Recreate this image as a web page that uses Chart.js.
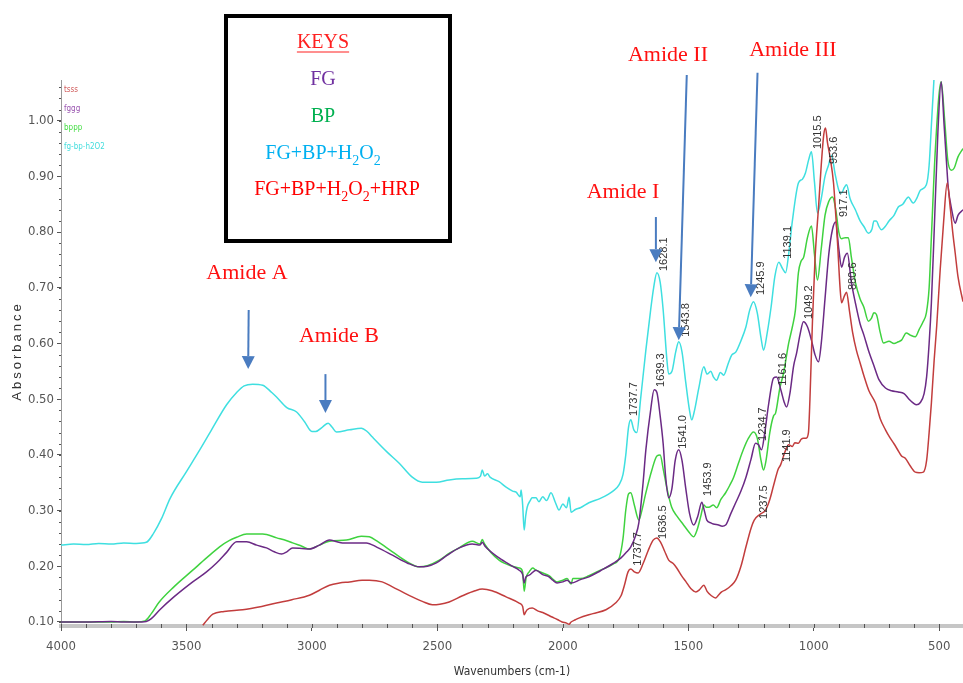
<!DOCTYPE html>
<html>
<head>
<meta charset="utf-8">
<script src="https://cdn.jsdelivr.net/npm/chart.js@4"></script>
<style>
  html, body { margin: 0; padding: 0; background: #fff; }
  #wrap { width: 963px; height: 683px; position: relative; }
</style>
</head>
<body>
<div id="wrap"><canvas id="ftir"></canvas></div>
<script>
// wavenumber (cm-1) / absorbance pairs
const cyanWn = [4000, 3950, 3900, 3850, 3800, 3750, 3700, 3660, 3630, 3600, 3565, 3500, 3447, 3400, 3340, 3300, 3270, 3236, 3196, 3160, 3141, 3100, 3061, 3030, 3000, 2985, 2958, 2935, 2920, 2902, 2850, 2803, 2780, 2759, 2700, 2652, 2600, 2560, 2504, 2453, 2400, 2345, 2328, 2321, 2312, 2300, 2290, 2254, 2226, 2200, 2186, 2170, 2166, 2160, 2154, 2148, 2142, 2130, 2122, 2107, 2095, 2080, 2065, 2047, 2030, 2015, 2000, 1985, 1975, 1967, 1950, 1930, 1896, 1850, 1800, 1776, 1760, 1749, 1738, 1729, 1717, 1705, 1690, 1669, 1650, 1638, 1625, 1612, 1600, 1585, 1578, 1565, 1550, 1538, 1525, 1510, 1495, 1486, 1475, 1458, 1438, 1425, 1410, 1400, 1387, 1372, 1359, 1340, 1327, 1310, 1290, 1270, 1255, 1240, 1225, 1210, 1200, 1185, 1170, 1155, 1139, 1125, 1112, 1100, 1085, 1061, 1045, 1033, 1020, 1009, 997, 985, 970, 955, 941, 929, 915, 900, 889, 878, 869, 855, 834, 815, 800, 782, 768, 760, 750, 740, 730, 715, 700, 680, 663, 645, 630, 623, 610, 603, 590, 575, 551, 540, 530, 520, 505, 405];
const cyanAbs = [0.238, 0.240, 0.239, 0.241, 0.240, 0.242, 0.241, 0.243, 0.260, 0.285, 0.322, 0.370, 0.409, 0.445, 0.490, 0.512, 0.524, 0.527, 0.525, 0.512, 0.504, 0.485, 0.477, 0.460, 0.442, 0.442, 0.450, 0.457, 0.450, 0.441, 0.445, 0.448, 0.442, 0.432, 0.405, 0.385, 0.360, 0.351, 0.351, 0.355, 0.357, 0.358, 0.362, 0.373, 0.362, 0.366, 0.360, 0.352, 0.342, 0.335, 0.333, 0.325, 0.337, 0.310, 0.265, 0.290, 0.306, 0.318, 0.323, 0.323, 0.316, 0.325, 0.318, 0.332, 0.315, 0.301, 0.312, 0.305, 0.324, 0.297, 0.302, 0.305, 0.314, 0.322, 0.335, 0.346, 0.365, 0.400, 0.450, 0.463, 0.445, 0.440, 0.500, 0.588, 0.660, 0.700, 0.727, 0.710, 0.660, 0.570, 0.545, 0.550, 0.585, 0.603, 0.585, 0.530, 0.480, 0.463, 0.480, 0.520, 0.558, 0.545, 0.550, 0.540, 0.534, 0.548, 0.543, 0.565, 0.579, 0.585, 0.605, 0.630, 0.660, 0.675, 0.655, 0.610, 0.588, 0.620, 0.665, 0.720, 0.746, 0.735, 0.727, 0.760, 0.820, 0.888, 0.895, 0.906, 0.930, 0.944, 0.890, 0.834, 0.860, 0.900, 0.920, 0.938, 0.905, 0.875, 0.870, 0.880, 0.885, 0.860, 0.840, 0.820, 0.810, 0.798, 0.805, 0.820, 0.820, 0.810, 0.804, 0.810, 0.820, 0.830, 0.845, 0.850, 0.860, 0.863, 0.855, 0.852, 0.860, 0.875, 0.885, 0.920, 1.000, 1.080, 1.200, 1.250];

const purpleWn = [4000, 3900, 3800, 3750, 3700, 3660, 3640, 3606, 3550, 3475, 3420, 3380, 3340, 3300, 3260, 3220, 3181, 3150, 3121, 3100, 3077, 3040, 3010, 2970, 2930, 2900, 2878, 2830, 2783, 2740, 2679, 2620, 2572, 2540, 2504, 2460, 2413, 2361, 2330, 2321, 2310, 2254, 2200, 2174, 2160, 2154, 2148, 2134, 2107, 2080, 2055, 2040, 2023, 2000, 1983, 1967, 1930, 1896, 1850, 1800, 1768, 1745, 1729, 1710, 1697, 1680, 1669, 1650, 1636, 1625, 1612, 1600, 1590, 1578, 1565, 1552, 1538, 1525, 1510, 1495, 1478, 1462, 1446, 1436, 1426, 1410, 1400, 1379, 1365, 1351, 1330, 1311, 1290, 1270, 1250, 1232, 1220, 1208, 1195, 1180, 1160, 1148, 1130, 1118, 1108, 1095, 1080, 1068, 1055, 1041, 1025, 1009, 995, 981, 970, 955, 940, 925, 913, 900, 889, 877, 866, 850, 834, 815, 800, 782, 760, 740, 714, 690, 663, 640, 620, 600, 591, 575, 560, 550, 540, 531, 520, 505, 492, 480, 470, 464, 450, 436, 425, 405];
const purpleAbs = [0.100, 0.100, 0.101, 0.100, 0.100, 0.101, 0.106, 0.122, 0.145, 0.172, 0.190, 0.206, 0.225, 0.244, 0.244, 0.238, 0.233, 0.226, 0.222, 0.226, 0.233, 0.232, 0.231, 0.238, 0.247, 0.244, 0.242, 0.242, 0.242, 0.234, 0.220, 0.206, 0.199, 0.200, 0.206, 0.220, 0.233, 0.240, 0.238, 0.243, 0.236, 0.215, 0.200, 0.193, 0.185, 0.170, 0.180, 0.184, 0.193, 0.185, 0.181, 0.175, 0.170, 0.172, 0.175, 0.170, 0.176, 0.181, 0.192, 0.205, 0.215, 0.226, 0.235, 0.255, 0.278, 0.350, 0.409, 0.480, 0.517, 0.512, 0.470, 0.420, 0.360, 0.323, 0.340, 0.390, 0.409, 0.390, 0.340, 0.295, 0.274, 0.290, 0.315, 0.300, 0.283, 0.278, 0.276, 0.274, 0.272, 0.274, 0.295, 0.314, 0.335, 0.360, 0.392, 0.421, 0.418, 0.409, 0.440, 0.490, 0.538, 0.540, 0.515, 0.495, 0.486, 0.510, 0.560, 0.583, 0.615, 0.639, 0.630, 0.606, 0.580, 0.567, 0.600, 0.680, 0.760, 0.805, 0.818, 0.770, 0.737, 0.755, 0.762, 0.710, 0.673, 0.635, 0.615, 0.588, 0.560, 0.535, 0.520, 0.515, 0.513, 0.510, 0.500, 0.492, 0.490, 0.494, 0.510, 0.540, 0.600, 0.673, 0.800, 0.980, 1.070, 0.990, 0.920, 0.881, 0.840, 0.816, 0.830, 0.840];

const greenWn = [4000, 3900, 3800, 3750, 3700, 3665, 3640, 3610, 3550, 3475, 3420, 3368, 3330, 3300, 3260, 3196, 3140, 3100, 3077, 3040, 3010, 2970, 2930, 2862, 2803, 2771, 2740, 2679, 2620, 2572, 2540, 2492, 2450, 2413, 2361, 2330, 2321, 2312, 2254, 2200, 2174, 2160, 2154, 2146, 2134, 2120, 2107, 2080, 2055, 2023, 2000, 1983, 1967, 1960, 1930, 1896, 1850, 1800, 1775, 1760, 1749, 1738, 1729, 1715, 1697, 1685, 1670, 1645, 1625, 1612, 1600, 1585, 1566, 1545, 1520, 1500, 1478, 1465, 1450, 1438, 1428, 1418, 1400, 1387, 1370, 1351, 1335, 1319, 1300, 1280, 1260, 1240, 1225, 1210, 1200, 1190, 1175, 1160, 1152, 1135, 1120, 1100, 1085, 1073, 1061, 1050, 1040, 1025, 1009, 997, 985, 970, 955, 940, 925, 912, 900, 889, 875, 862, 850, 834, 815, 800, 782, 770, 760, 750, 735, 722, 700, 680, 663, 650, 631, 615, 595, 580, 565, 551, 540, 531, 515, 492, 478, 466, 452, 440, 425, 405];
const greenAbs = [0.100, 0.100, 0.100, 0.101, 0.100, 0.102, 0.115, 0.135, 0.163, 0.193, 0.215, 0.235, 0.246, 0.252, 0.258, 0.258, 0.251, 0.246, 0.242, 0.236, 0.231, 0.238, 0.245, 0.247, 0.254, 0.253, 0.245, 0.226, 0.208, 0.199, 0.201, 0.211, 0.224, 0.233, 0.245, 0.240, 0.248, 0.240, 0.211, 0.200, 0.197, 0.190, 0.155, 0.180, 0.190, 0.197, 0.193, 0.188, 0.183, 0.172, 0.175, 0.178, 0.168, 0.178, 0.178, 0.183, 0.193, 0.204, 0.215, 0.250, 0.301, 0.330, 0.332, 0.310, 0.283, 0.300, 0.330, 0.373, 0.398, 0.400, 0.375, 0.340, 0.306, 0.290, 0.275, 0.263, 0.253, 0.265, 0.290, 0.310, 0.306, 0.306, 0.310, 0.305, 0.320, 0.332, 0.345, 0.360, 0.385, 0.410, 0.430, 0.441, 0.430, 0.390, 0.373, 0.390, 0.440, 0.470, 0.475, 0.520, 0.547, 0.600, 0.630, 0.660, 0.727, 0.748, 0.755, 0.790, 0.811, 0.760, 0.714, 0.770, 0.830, 0.855, 0.863, 0.840, 0.800, 0.788, 0.790, 0.790, 0.755, 0.710, 0.680, 0.665, 0.640, 0.645, 0.655, 0.652, 0.620, 0.601, 0.604, 0.600, 0.603, 0.606, 0.619, 0.615, 0.612, 0.625, 0.638, 0.655, 0.700, 0.791, 0.950, 1.070, 1.000, 0.930, 0.911, 0.915, 0.935, 0.950];

const redWn = [3435, 3415, 3395, 3350, 3276, 3200, 3141, 3080, 3010, 2970, 2930, 2890, 2850, 2800, 2771, 2720, 2679, 2640, 2600, 2560, 2520, 2490, 2453, 2400, 2350, 2321, 2282, 2226, 2174, 2160, 2154, 2148, 2142, 2122, 2100, 2080, 2043, 2020, 2003, 1985, 1975, 1967, 1950, 1936, 1880, 1828, 1790, 1768, 1755, 1740, 1729, 1715, 1700, 1680, 1660, 1640, 1625, 1610, 1595, 1578, 1560, 1546, 1525, 1510, 1490, 1470, 1455, 1438, 1425, 1410, 1391, 1380, 1367, 1350, 1330, 1311, 1290, 1270, 1250, 1237, 1215, 1192, 1175, 1160, 1141, 1132, 1115, 1100, 1085, 1075, 1061, 1050, 1041, 1030, 1021, 1015, 1005, 995, 980, 970, 960, 953, 945, 935, 921, 912, 905, 895, 889, 878, 869, 858, 845, 830, 815, 800, 780, 754, 735, 714, 695, 680, 660, 650, 635, 615, 595, 580, 563, 550, 540, 531, 520, 510, 496, 482, 468, 455, 446, 436, 425, 405];
const redAbs = [0.094, 0.105, 0.114, 0.119, 0.122, 0.128, 0.134, 0.140, 0.148, 0.157, 0.166, 0.170, 0.172, 0.175, 0.175, 0.172, 0.163, 0.154, 0.145, 0.137, 0.131, 0.132, 0.136, 0.147, 0.156, 0.159, 0.156, 0.145, 0.134, 0.128, 0.113, 0.118, 0.122, 0.125, 0.120, 0.117, 0.109, 0.104, 0.100, 0.098, 0.096, 0.100, 0.104, 0.107, 0.115, 0.122, 0.134, 0.147, 0.165, 0.190, 0.195, 0.190, 0.188, 0.205, 0.228, 0.247, 0.251, 0.243, 0.228, 0.211, 0.205, 0.197, 0.182, 0.173, 0.160, 0.154, 0.158, 0.166, 0.155, 0.148, 0.143, 0.148, 0.154, 0.158, 0.165, 0.175, 0.200, 0.235, 0.268, 0.283, 0.293, 0.301, 0.320, 0.345, 0.375, 0.382, 0.405, 0.418, 0.415, 0.422, 0.421, 0.428, 0.430, 0.430, 0.440, 0.500, 0.640, 0.750, 0.850, 0.920, 0.975, 0.987, 0.960, 0.935, 0.888, 0.830, 0.780, 0.700, 0.673, 0.685, 0.692, 0.660, 0.620, 0.588, 0.565, 0.542, 0.515, 0.493, 0.465, 0.445, 0.430, 0.420, 0.405, 0.398, 0.394, 0.380, 0.369, 0.368, 0.369, 0.390, 0.440, 0.493, 0.570, 0.630, 0.732, 0.820, 0.888, 0.840, 0.800, 0.762, 0.720, 0.675];

const xTicks = [4000, 3500, 3000, 2500, 2000, 1500, 1000, 500];
const yTicks = [0.1, 0.2, 0.3, 0.4, 0.5, 0.6, 0.7, 0.8, 0.9, 1.0];

// peak labels: text, wavenumber and absorbance where the rotated label starts
const peakText = ['1628.1', '1543.8', '1245.9', '1139.1', '1015.5', '953.6', '917.1', '880.6', '1737.7', '1639.3', '1541.0', '1453.9', '1234.7', '1161.6', '1049.2', '1141.9', '1237.5', '1636.5', '1737.7'];
const peakWn = [1598, 1510, 1211, 1103, 983, 919, 880, 844, 1717, 1610, 1522, 1422, 1203, 1123, 1019, 1107, 1199, 1602, 1702];
const peakAbs = [0.730, 0.612, 0.687, 0.752, 0.949, 0.922, 0.827, 0.696, 0.470, 0.522, 0.411, 0.326, 0.425, 0.524, 0.644, 0.387, 0.285, 0.249, 0.201];

// amide band annotations
const amideText = ['Amide A', 'Amide B', 'Amide I', 'Amide II', 'Amide III'];
const amideTextAt = [[3259, 0.727], [2892, 0.613], [1760, 0.872], [1581, 1.118], [1083, 1.127]];
const amideFrom = [[3252, 0.660], [2946, 0.545], [1629, 0.827], [1506, 1.082], [1224, 1.086]];
const amideTo = [[3254, 0.554], [2946, 0.475], [1629, 0.746], [1538, 0.606], [1251, 0.683]];

const seriesNames = ['tsss', 'fggg', 'bppp', 'fg-bp-h2O2'];
const keyLines = ['KEYS', 'FG', 'BP', 'FG+BP+H_2O_2', 'FG+BP+H_2O_2+HRP'];

const lineColors = ['#c23d3d', '#6b2a85', '#3fd23f', '#3fdfe0'];
const legendColors = ['#d05a5a', '#9a55b0', '#44dd44', '#44dddd'];
const keyColors = ['#ff2020', '#7030a0', '#00b050', '#00b0f0', '#ff0000'];

const narrow = "'Liberation Sans Narrow', 'DejaVu Sans Condensed', sans-serif";
const sans = "'Liberation Sans', Arial, sans-serif";
const serif = "'Liberation Serif', 'Times New Roman', serif";

const toPoints = (wn, ab) => wn.map((w, i) => ({ x: w, y: ab[i] }));

function drawRich(ctx, str, cx, cy, size, color) {
  const parts = str.split(/(_\d)/).filter(s => s.length).map(s =>
    s[0] === '_' ? { t: s.slice(1), sub: true } : { t: s, sub: false });
  const base = `${size}px ${serif}`;
  const small = `${Math.round(size * 0.7)}px ${serif}`;
  let total = 0;
  parts.forEach(p => { ctx.font = p.sub ? small : base; total += ctx.measureText(p.t).width; });
  let x = cx - total / 2;
  ctx.fillStyle = color;
  ctx.textAlign = 'left';
  ctx.textBaseline = 'middle';
  parts.forEach(p => {
    ctx.font = p.sub ? small : base;
    ctx.fillText(p.t, x, p.sub ? cy + size * 0.38 : cy);
    x += ctx.measureText(p.t).width;
  });
  return total;
}

const decor = {
  id: 'decor',
  afterDraw(chart) {
    const ctx = chart.ctx;
    const xs = chart.scales.x;
    const ys = chart.scales.y;
    const area = chart.chartArea;
    ctx.save();

    // minor ticks
    ctx.strokeStyle = '#555';
    ctx.lineWidth = 1;
    for (let w = 500; w <= 4000; w += 100) {
      const px = Math.round(xs.getPixelForValue(w)) + 0.5;
      ctx.beginPath();
      ctx.moveTo(px, area.bottom - 2);
      ctx.lineTo(px, area.bottom + 2);
      ctx.stroke();
    }
    for (let k = 5; k <= 53; k++) {
      const py = Math.round(ys.getPixelForValue(k * 0.02)) + 0.5;
      ctx.beginPath();
      ctx.moveTo(area.left - 2, py);
      ctx.lineTo(area.left, py);
      ctx.stroke();
    }

    // y title with wide spacing
    ctx.save();
    ctx.translate(17, (area.top + area.bottom) / 2 - 2);
    ctx.rotate(-Math.PI / 2);
    ctx.font = `13px ${sans}`;
    ctx.letterSpacing = '3px';
    ctx.fillStyle = '#333';
    ctx.textAlign = 'center';
    ctx.textBaseline = 'middle';
    ctx.fillText('Absorbance', 0, 0);
    ctx.restore();

    // small series legend
    ctx.font = `8px ${narrow}`;
    ctx.textAlign = 'left';
    ctx.textBaseline = 'middle';
    seriesNames.forEach((name, i) => {
      ctx.fillStyle = legendColors[i];
      ctx.fillText(name, area.left + 3, area.top + 10 + i * 19);
    });

    // peak labels
    ctx.font = `11px ${sans}`;
    ctx.fillStyle = '#333';
    peakText.forEach((t, i) => {
      ctx.save();
      ctx.translate(xs.getPixelForValue(peakWn[i]), ys.getPixelForValue(peakAbs[i]));
      ctx.rotate(-Math.PI / 2);
      ctx.textAlign = 'left';
      ctx.textBaseline = 'middle';
      ctx.fillText(t, 0, 0);
      ctx.restore();
    });

    // amide annotations
    amideText.forEach((t, i) => {
      ctx.font = `22px ${serif}`;
      ctx.fillStyle = '#ff1010';
      ctx.textAlign = 'center';
      ctx.textBaseline = 'middle';
      ctx.fillText(t, xs.getPixelForValue(amideTextAt[i][0]), ys.getPixelForValue(amideTextAt[i][1]));
      const x1 = xs.getPixelForValue(amideFrom[i][0]);
      const y1 = ys.getPixelForValue(amideFrom[i][1]);
      const x2 = xs.getPixelForValue(amideTo[i][0]);
      const y2 = ys.getPixelForValue(amideTo[i][1]);
      const ang = Math.atan2(y2 - y1, x2 - x1);
      const head = 13;
      const hw = 6.5;
      const bx = x2 - head * Math.cos(ang);
      const by = y2 - head * Math.sin(ang);
      ctx.strokeStyle = '#4a7cc0';
      ctx.fillStyle = '#4a7cc0';
      ctx.lineWidth = 2;
      ctx.beginPath();
      ctx.moveTo(x1, y1);
      ctx.lineTo(bx, by);
      ctx.stroke();
      ctx.beginPath();
      ctx.moveTo(x2, y2);
      ctx.lineTo(bx + hw * Math.sin(ang), by - hw * Math.cos(ang));
      ctx.lineTo(bx - hw * Math.sin(ang), by + hw * Math.cos(ang));
      ctx.closePath();
      ctx.fill();
    });

    // key box
    ctx.fillStyle = '#fff';
    ctx.fillRect(226, 16, 224, 225);
    ctx.strokeStyle = '#000';
    ctx.lineWidth = 4;
    ctx.strokeRect(226, 16, 224, 225);
    const keyX = [323, 323, 323, 323, 337];
    const keyY = [43, 80, 117, 154, 190];
    keyLines.forEach((t, i) => {
      const w = drawRich(ctx, t, keyX[i], keyY[i], 20, keyColors[i]);
      if (i === 0) {
        ctx.strokeStyle = keyColors[0];
        ctx.lineWidth = 1.2;
        ctx.beginPath();
        ctx.moveTo(keyX[i] - w / 2, keyY[i] + 9);
        ctx.lineTo(keyX[i] + w / 2, keyY[i] + 9);
        ctx.stroke();
      }
    });

    ctx.restore();
  }
};

const allWn = [redWn, purpleWn, greenWn, cyanWn];
const allAbs = [redAbs, purpleAbs, greenAbs, cyanAbs];

new Chart(document.getElementById('ftir'), {
  type: 'line',
  data: {
    datasets: seriesNames.map((name, i) => ({
      label: name,
      data: toPoints(allWn[i], allAbs[i]),
      borderColor: lineColors[i],
      backgroundColor: lineColors[i],
      borderWidth: 1.5,
      pointRadius: 0,
      fill: false,
      cubicInterpolationMode: 'monotone'
    }))
  },
  options: {
    responsive: true,
    maintainAspectRatio: false,
    animation: false,
    layout: { padding: { top: 80, right: 0, left: 0, bottom: 0 } },
    plugins: {
      legend: { display: false },
      tooltip: { enabled: false }
    },
    scales: {
      x: {
        type: 'linear',
        reverse: true,
        min: 405,
        max: 4000,
        afterBuildTicks: s => { s.ticks = xTicks.map(v => ({ value: v })); },
        afterFit: s => { s.height = 57; },
        ticks: {
          font: { family: narrow, size: 13 },
          color: '#555',
          padding: 8,
          maxRotation: 0,
          autoSkip: false,
          callback: v => String(v)
        },
        grid: { drawOnChartArea: false, drawTicks: true, tickLength: 5, color: '#555' },
        border: { display: true, color: '#c6c6c6', width: 4 },
        title: {
          display: true,
          text: 'Wavenumbers (cm-1)',
          font: { family: narrow, size: 12 },
          color: '#333',
          padding: { top: 0, bottom: 4 }
        }
      },
      y: {
        type: 'linear',
        min: 0.0928,
        max: 1.073,
        afterBuildTicks: s => { s.ticks = yTicks.map(v => ({ value: v })); },
        afterFit: s => { s.width = 61; },
        ticks: {
          font: { family: narrow, size: 13 },
          color: '#555',
          padding: 3,
          callback: v => v.toFixed(2)
        },
        grid: { drawOnChartArea: false, drawTicks: true, tickLength: 4, color: '#555' },
        border: { display: true, color: '#999', width: 1 }
      }
    }
  },
  plugins: [decor]
});
</script>
</body>
</html>
